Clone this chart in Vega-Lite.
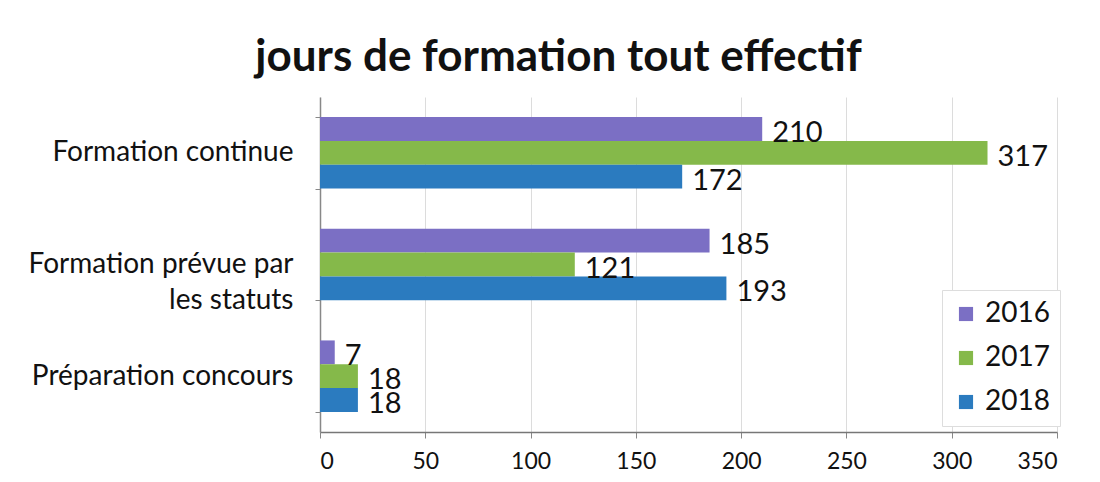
{
  "$schema": "https://vega.github.io/schema/vega-lite/v6.json",
  "width": 737,
  "height": 335,
  "autosize": {"type": "none"},
  "padding": {"left": 320, "top": 97, "right": 43, "bottom": 50},
  "background": "white",
  "title": {
    "text": "jours de formation tout effectif",
    "font": "Lato",
    "fontSize": 44,
    "fontWeight": "bold",
    "color": "#111111",
    "anchor": "middle",
    "dx": -130,
    "offset": 3
  },
  "data": {
    "values": [
      {"categorie": "Formation continue", "annee": "2016", "jours": 210},
      {"categorie": "Formation continue", "annee": "2017", "jours": 317},
      {"categorie": "Formation continue", "annee": "2018", "jours": 172},
      {"categorie": "Formation prévue par les statuts", "annee": "2016", "jours": 185},
      {"categorie": "Formation prévue par les statuts", "annee": "2017", "jours": 121},
      {"categorie": "Formation prévue par les statuts", "annee": "2018", "jours": 193},
      {"categorie": "Préparation concours", "annee": "2016", "jours": 7},
      {"categorie": "Préparation concours", "annee": "2017", "jours": 18},
      {"categorie": "Préparation concours", "annee": "2018", "jours": 18}
    ]
  },
  "encoding": {
    "y": {
      "field": "categorie",
      "type": "nominal",
      "sort": ["Formation continue", "Formation prévue par les statuts", "Préparation concours"],
      "scale": {"paddingInner": 0.36, "paddingOuter": 0.18},
      "axis": {
        "title": null,
        "labelFont": "Lato",
        "labelFontSize": 28,
        "labelColor": "#111111",
        "labelPadding": 22,
        "labelLimit": 400,
        "labelLineHeight": 36,
        "labelExpr": "datum.value == 'Formation prévue par les statuts' ? ['Formation prévue par', 'les statuts'] : datum.value",
        "tickBand": "extent",
        "tickSize": 5,
        "tickColor": "#888888",
        "domainColor": "#888888",
        "domainWidth": 1.5,
        "grid": false
      }
    },
    "yOffset": {"field": "annee", "type": "nominal", "sort": ["2016", "2017", "2018"]},
    "x": {
      "field": "jours",
      "type": "quantitative",
      "scale": {"domain": [0, 350], "nice": false},
      "axis": {
        "title": null,
        "values": [0, 50, 100, 150, 200, 250, 300, 350],
        "labelFont": "Lato",
        "labelFontSize": 23,
        "labelColor": "#111111",
        "labelPadding": 12,
        "tickSize": 6,
        "tickColor": "#888888",
        "domainColor": "#777777",
        "domainWidth": 1.5,
        "gridColor": "#dcdcdc",
        "gridWidth": 1
      }
    }
  },
  "layer": [
    {
      "mark": {"type": "bar"},
      "encoding": {
        "color": {
          "field": "annee",
          "type": "nominal",
          "scale": {"domain": ["2016", "2017", "2018"], "range": ["#7b6fc4", "#85b94a", "#2b7bbf"]},
          "legend": {
            "title": null,
            "orient": "none",
            "legendX": 622,
            "legendY": 193,
            "symbolType": "square",
            "symbolSize": 200,
            "symbolStrokeWidth": 0,
            "labelFont": "Lato",
            "labelFontSize": 28,
            "labelColor": "#111111",
            "labelOffset": 5,
            "rowPadding": 16,
            "padding": 10,
            "fillColor": "white",
            "strokeColor": "#dddddd"
          }
        }
      }
    },
    {
      "mark": {"type": "text", "align": "left", "baseline": "middle", "dx": 10, "dy": 4, "font": "Lato", "fontSize": 29, "color": "#111111"},
      "encoding": {"text": {"field": "jours", "type": "quantitative"}}
    }
  ],
  "config": {"view": {"stroke": null}}
}
